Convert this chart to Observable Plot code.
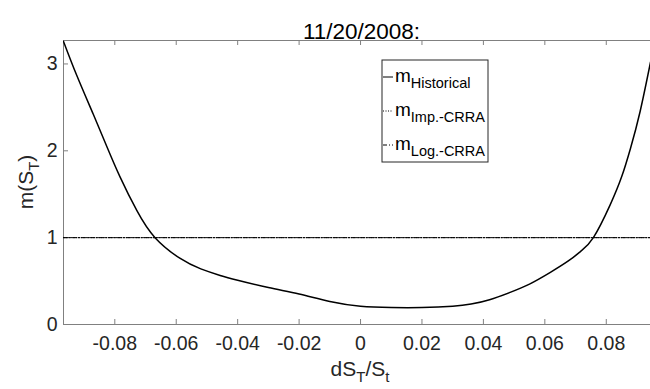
<!DOCTYPE html>
<html>
<head>
<meta charset="utf-8">
<script src="https://cdn.jsdelivr.net/npm/d3@7"></script>
<script src="https://cdn.jsdelivr.net/npm/@observablehq/plot@0.6"></script>
<style>
  html, body { margin: 0; padding: 0; background: #fff; }
</style>
</head>
<body>
<div id="chart"></div>
<script>
// ---- data ----
const titleText = "11/20/2008:";
const returnsX = [-0.0967, -0.0924, -0.0870, -0.0826, -0.0783, -0.0728, -0.0669, -0.0587, -0.052, -0.0457, -0.040, -0.030, -0.020, -0.010, 0.000, 0.010, 0.020, 0.030, 0.036, 0.042, 0.0487, 0.055, 0.0618, 0.0680, 0.0716, 0.0758, 0.0813, 0.085, 0.0879, 0.091, 0.0944];
const mHistorical = [3.26, 2.87, 2.42, 2.05, 1.70, 1.31, 1.00, 0.76, 0.64, 0.565, 0.51, 0.425, 0.35, 0.265, 0.21, 0.195, 0.195, 0.21, 0.235, 0.285, 0.37, 0.465, 0.60, 0.74, 0.84, 1.00, 1.38, 1.70, 2.03, 2.45, 3.02];
const flatX = [-0.0967, 0.0967];
const mImpCRRA = [1.0, 1.0];
const mLogCRRA = [1.0, 1.0];
const xTicks = [-0.08, -0.06, -0.04, -0.02, 0, 0.02, 0.04, 0.06, 0.08];
const yTicks = [0, 1, 2, 3];
const xDomain = [-0.0967, 0.0944];
const yDomain = [0, 3.27];

const hist = returnsX.map((x, i) => ({x, y: mHistorical[i]}));
const imp = flatX.map((x, i) => ({x, y: mImpCRRA[i]}));
const logc = flatX.map((x, i) => ({x, y: mLogCRRA[i]}));

const W = 650, H = 389, mL = 63, mR = 0, mT = 40, mB = 65;
const innerW = W - mL - mR, innerH = H - mT - mB;
const axisColor = "#808080";
const font = "'Liberation Sans', Arial, Helvetica, sans-serif";

const plot = Plot.plot({
  width: W, height: H,
  marginLeft: mL, marginRight: mR, marginTop: mT, marginBottom: mB,
  style: {fontFamily: font, fontSize: "19.5px", color: "#262626", background: "#fff"},
  x: {domain: xDomain},
  y: {domain: yDomain},
  marks: [
    // frame (left, top, bottom; right edge is outside the picture)
    Plot.ruleX([xDomain[0]], {stroke: axisColor, strokeWidth: 1}),
    Plot.ruleY([yDomain[0], yDomain[1]], {stroke: axisColor, strokeWidth: 1}),
    // inward ticks
    Plot.ruleX(xTicks, {stroke: axisColor, insetTop: innerH - 5}),
    Plot.ruleX(xTicks, {stroke: axisColor, insetBottom: innerH - 5}),
    Plot.ruleY(yTicks, {stroke: axisColor, insetRight: innerW - 5}),
    Plot.axisX({ticks: xTicks, tickSize: 0, tickPadding: 12, label: null,
      tickFormat: d => d === 0 ? "0" : d.toFixed(2), fontSize: 19.5}),
    Plot.axisY({ticks: yTicks, tickSize: 0, tickPadding: 6, label: null, tickFormat: d => String(d), fontSize: 19.5}),
    // lines
    Plot.line(imp, {x: "x", y: "y", stroke: "#000", strokeWidth: 1, strokeDasharray: "1,1.5", clip: true}),
    Plot.line(logc, {x: "x", y: "y", stroke: "#000", strokeWidth: 1, strokeDasharray: "4,2,1,2", clip: true}),
    Plot.line(hist, {x: "x", y: "y", stroke: "#000", strokeWidth: 1.5, curve: "natural", clip: true}),
    // title
    Plot.text([titleText], {frameAnchor: "top", dy: -17, fontSize: 22.5, fill: "#000", dx: 298 - innerW / 2})
  ]
});

document.getElementById("chart").appendChild(plot);
const svg = d3.select(plot);

// axis labels with subscripts
const xl = svg.append("text")
  .attr("x", 360).attr("y", 376)
  .attr("text-anchor", "middle")
  .attr("font-family", font).attr("font-size", 21).attr("fill", "#262626");
xl.append("tspan").text("dS");
xl.append("tspan").attr("dy", 6).attr("font-size", 15).text("T");
xl.append("tspan").attr("dy", -6).text("/S");
xl.append("tspan").attr("dy", 6).attr("font-size", 15).text("t");

const yl = svg.append("text")
  .attr("transform", "translate(33,182) rotate(-90)")
  .attr("text-anchor", "middle")
  .attr("font-family", font).attr("font-size", 21).attr("fill", "#262626");
yl.append("tspan").text("m(S");
yl.append("tspan").attr("dy", 6).attr("font-size", 15).text("T");
yl.append("tspan").attr("dy", -6).text(")");

// legend
const legendItems = [
  {sub: "Historical", dash: null},
  {sub: "Imp.-CRRA", dash: "1,1.5"},
  {sub: "Log.-CRRA", dash: "4,2,1,2"}
];
const lg = svg.append("g");
lg.append("rect").attr("x", 382).attr("y", 60).attr("width", 106).attr("height", 102)
  .attr("fill", "#fff").attr("stroke", "#262626").attr("stroke-width", 1);
legendItems.forEach((d, i) => {
  const by = 82 + i * 34;
  lg.append("line").attr("x1", 383).attr("x2", 393).attr("y1", by - 5).attr("y2", by - 5)
    .attr("stroke", "#000").attr("stroke-width", 1)
    .attr("stroke-dasharray", d.dash);
  const t = lg.append("text").attr("x", 395).attr("y", by)
    .attr("text-anchor", "start")
    .attr("font-family", font).attr("font-size", 19).attr("fill", "#000");
  t.append("tspan").text("m");
  t.append("tspan").attr("dy", 6).attr("font-size", 14.5).text(d.sub);
});
</script>
</body>
</html>
